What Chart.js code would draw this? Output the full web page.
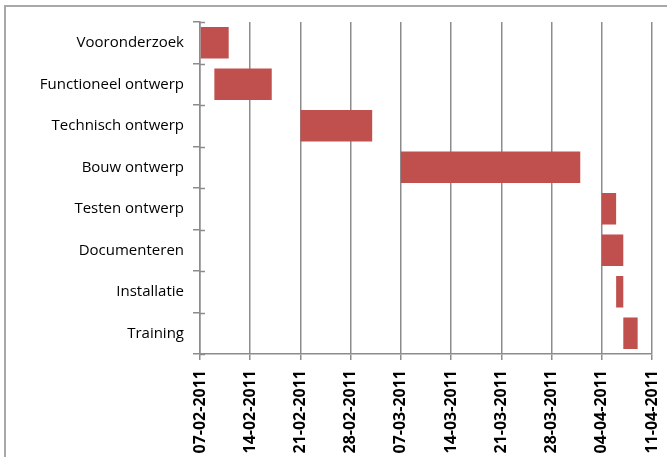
<!DOCTYPE html>
<html>
<head>
<meta charset="utf-8">
<script src="https://cdn.jsdelivr.net/npm/chart.js@4.4.1/dist/chart.umd.min.js"></script>
<style>
  html, body { margin: 0; padding: 0; width: 667px; height: 457px; overflow: hidden; background: #fff; }
  #frame { position: absolute; left: 4px; top: 5px; width: 720px; height: 520px; border: 2px solid #a8a8a8; box-sizing: border-box; }
  #c { position: absolute; left: 0; top: 0; }
</style>
</head>
<body>
<div id="frame"></div>
<canvas id="c" width="667" height="457"></canvas>
<script>
const categories = ['Vooronderzoek', 'Functioneel ontwerp', 'Technisch ontwerp', 'Bouw ontwerp',
  'Testen ontwerp', 'Documenteren', 'Installatie', 'Training'];
const startDates = ['2011-02-07', '2011-02-09', '2011-02-21', '2011-03-07',
  '2011-04-04', '2011-04-04', '2011-04-06', '2011-04-07'];
const endDates = ['2011-02-11', '2011-02-17', '2011-03-03', '2011-04-01',
  '2011-04-06', '2011-04-07', '2011-04-07', '2011-04-09'];
const tickLabels = ['07-02-2011', '14-02-2011', '21-02-2011', '28-02-2011', '07-03-2011',
  '14-03-2011', '21-03-2011', '28-03-2011', '04-04-2011', '11-04-2011'];
const axisStart = '2011-02-07';
const axisEnd = '2011-04-11';

const DAY = 86400000;
const dayOf = s => Math.round((Date.parse(s + 'T00:00:00Z') - Date.parse(axisStart + 'T00:00:00Z')) / DAY);
const ranges = startDates.map((s, i) => [dayOf(s), dayOf(endDates[i])]);

const gridColor = '#8c8c8c';

const innerTicks = {
  id: 'innerTicks',
  afterDraw(chart) {
    const y = chart.scales.y;
    const ctx = chart.ctx;
    const n = categories.length;
    const band = (y.bottom - y.top) / n;
    const left = chart.chartArea.left;
    ctx.save();
    ctx.strokeStyle = gridColor;
    ctx.lineWidth = 1.5;
    for (let i = 0; i <= n; i++) {
      const py = Math.round(y.top + i * band) + 0.5;
      ctx.beginPath();
      ctx.moveTo(left, py);
      ctx.lineTo(left + 5, py);
      ctx.stroke();
    }
    ctx.restore();
  }
};

function draw() {
  new Chart(document.getElementById('c'), {
    type: 'bar',
    data: {
      labels: categories,
      datasets: [{
        data: ranges,
        backgroundColor: '#C0504D',
        borderWidth: 0,
        categoryPercentage: 1.0,
        barPercentage: 0.76
      }]
    },
    plugins: [innerTicks],
    options: {
      indexAxis: 'y',
      responsive: false,
      animation: false,
      layout: { padding: { top: 22, right: 15, left: 0, bottom: 0 } },
      plugins: { legend: { display: false }, tooltip: { enabled: false } },
      scales: {
        x: {
          type: 'linear',
          position: 'bottom',
          min: 0,
          max: dayOf(axisEnd),
          grid: { color: gridColor, lineWidth: 1.5, tickLength: 6, drawTicks: true },
          border: { color: gridColor, width: 1.5 },
          ticks: {
            stepSize: 7,
            autoSkip: false,
            maxRotation: 90,
            minRotation: 90,
            padding: 10,
            color: '#000',
            font: { family: '"Open Sans"', size: 16, weight: 'bold' },
            callback: v => tickLabels[Math.round(v / 7)]
          },
          afterFit: s => { s.height = 103; s.paddingLeft = 0; s.paddingRight = 0; }
        },
        y: {
          type: 'category',
          grid: { offset: true, drawOnChartArea: false, color: gridColor, lineWidth: 1.5, tickLength: 7 },
          border: { color: gridColor, width: 1.5 },
          ticks: {
            padding: 9,
            color: '#000',
            font: { family: '"Open Sans"', size: 15 }
          },
          afterFit: s => { s.width = 200; s.paddingTop = 0; s.paddingBottom = 0; }
        }
      }
    }
  });
}

Promise.all([
  document.fonts.load('15px "Open Sans"'),
  document.fonts.load('bold 16px "Open Sans"')
]).then(draw, draw);
</script>
</body>
</html>
